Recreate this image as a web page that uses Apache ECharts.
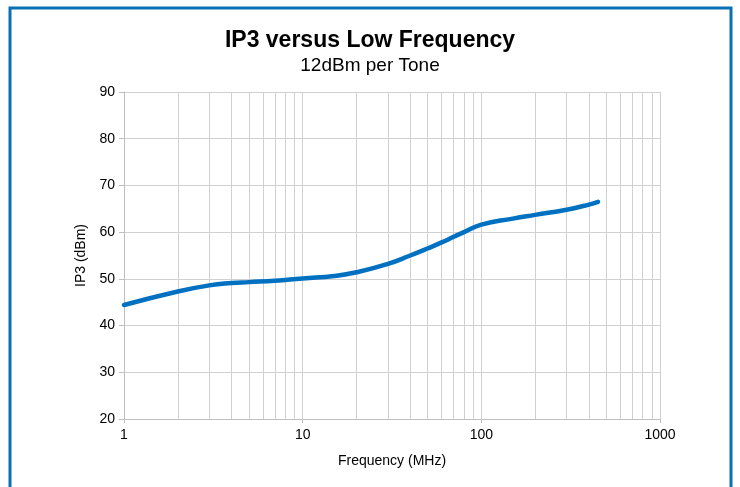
<!DOCTYPE html>
<html>
<head>
<meta charset="utf-8">
<script src="https://cdn.jsdelivr.net/npm/echarts@6/dist/echarts.min.js"></script>
<style>
  html, body { margin: 0; padding: 0; background: #fff; }
  #chart { width: 740px; height: 487px; }
</style>
</head>
<body>
<div id="chart"></div>
<script>
// frequency in MHz and IP3 in dBm
var freqs = [1, 2, 3, 4, 5, 7, 10, 15, 20, 30, 40, 50, 60, 70, 80, 100, 150, 200, 300, 400, 450];
var ip3 = [44.4, 47.3, 48.6, 49.1, 49.3, 49.6, 50.1, 50.6, 51.4, 53.2, 55.0, 56.5, 57.8, 59.0, 60.0, 61.6, 62.9, 63.7, 64.8, 65.9, 66.5];
// minor log grid lines between decades
var minorGrid = [2, 3, 4, 5, 6, 7, 8, 9, 20, 30, 40, 50, 60, 70, 80, 90, 200, 300, 400, 500, 600, 700, 800, 900];

var font = '"Liberation Sans", Arial, sans-serif';
var gridColor = '#d0d0d0';

var chart = echarts.init(document.getElementById('chart'));
chart.setOption({
    backgroundColor: '#fff',
    animation: false,
    title: {
        text: 'IP3 versus Low Frequency',
        subtext: '12dBm per Tone',
        left: 'center',
        top: 24,
        itemGap: 4,
        textStyle: { fontFamily: font, fontSize: 23, fontWeight: 'bold', color: '#000' },
        subtextStyle: { fontFamily: font, fontSize: 19, color: '#000' }
    },
    graphic: [{
        type: 'rect',
        shape: { x: 10, y: 8, width: 721, height: 490 },
        style: { fill: 'none', stroke: '#0a70b4', lineWidth: 3 },
        silent: true
    }],
    grid: { left: 124, right: 80, top: 92, bottom: 68 },
    xAxis: {
        type: 'log',
        logBase: 10,
        min: 1,
        max: 1000,
        name: 'Frequency (MHz)',
        nameLocation: 'middle',
        nameGap: 35,
        nameTextStyle: { fontFamily: font, fontSize: 14, color: '#000' },
        axisLine: { lineStyle: { color: '#bfbfbf' } },
        axisTick: { show: true, length: 4, lineStyle: { color: '#bfbfbf' } },
        axisLabel: { fontFamily: font, fontSize: 14, color: '#000', margin: 9, formatter: function (v) { return String(v); } },
        splitLine: { show: true, lineStyle: { color: gridColor } }
    },
    yAxis: {
        type: 'value',
        min: 20,
        max: 90,
        interval: 10,
        name: 'IP3 (dBm)',
        nameLocation: 'middle',
        nameGap: 33,
        nameTextStyle: { fontFamily: font, fontSize: 14, color: '#000' },
        axisLine: { show: true, lineStyle: { color: '#bfbfbf' } },
        axisTick: { show: true, length: 5, lineStyle: { color: '#bfbfbf' } },
        axisLabel: { fontFamily: font, fontSize: 14, color: '#000', margin: 9 },
        splitLine: { show: true, lineStyle: { color: gridColor } }
    },
    series: [{
        type: 'line',
        data: [],
        z: 1,
        silent: true,
        markLine: {
            z: 1,
            silent: true,
            symbol: 'none',
            label: { show: false },
            lineStyle: { color: gridColor, type: 'solid', width: 1 },
            data: minorGrid.map(function (f) { return { xAxis: f }; })
        }
    }, {
        type: 'line',
        z: 10,
        data: freqs.map(function (f, i) { return [f, ip3[i]]; }),
        smooth: 0.5,
        showSymbol: false,
        lineStyle: { color: '#0070c0', width: 4.5, cap: 'round' }
    }]
});
</script>
</body>
</html>
